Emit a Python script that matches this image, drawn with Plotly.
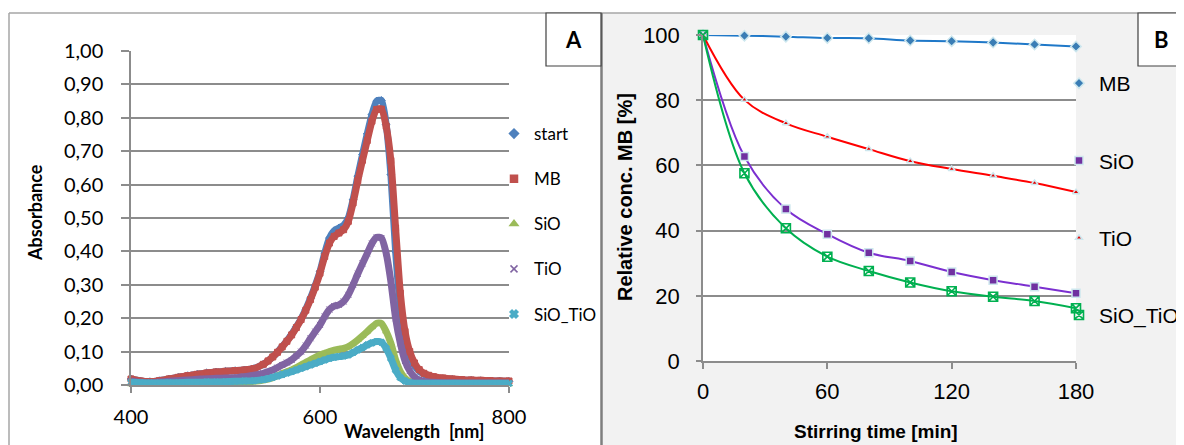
import plotly.graph_objects as go

# target picture size and the page's default body margin (the figure is drawn 8px in)
W, H = 1184, 445
OFF = 8
FW, FH = W - OFF, H - OFF

# ---------------- Panel A data (UV-Vis spectra) ----------------
wavelength = [400, 410, 420, 430, 440, 450, 460, 470, 480, 490, 500, 510, 520, 530, 540,
              545, 550, 555, 560, 565, 570, 575, 580, 585, 590, 595, 600, 605, 610, 615,
              620, 625, 630, 635, 640, 645, 650, 655, 660, 665, 670, 675, 680, 685, 690,
              695, 700, 705, 710, 715, 720,
              730, 740, 750, 760, 770, 780, 790, 800]

abs_start = [0.018, 0.012, 0.010, 0.013, 0.018, 0.023, 0.028, 0.032, 0.036, 0.039, 0.041, 0.043, 0.045, 0.049, 0.062,
             0.072, 0.084, 0.098, 0.115, 0.132, 0.152, 0.174, 0.198, 0.227, 0.260, 0.298, 0.340, 0.395, 0.440, 0.462,
             0.470, 0.478, 0.500, 0.555, 0.625, 0.690, 0.752, 0.810, 0.850, 0.852, 0.780, 0.630, 0.400, 0.235, 0.140,
             0.088, 0.058, 0.042, 0.033, 0.027, 0.023,
             0.019, 0.017, 0.015, 0.014, 0.013, 0.012, 0.012, 0.011]

abs_MB = [0.018, 0.012, 0.010, 0.013, 0.018, 0.023, 0.028, 0.032, 0.036, 0.039, 0.041, 0.043, 0.045, 0.049, 0.062,
          0.072, 0.084, 0.098, 0.114, 0.131, 0.150, 0.172, 0.196, 0.224, 0.256, 0.293, 0.335, 0.385, 0.425, 0.445,
          0.455, 0.465, 0.490, 0.545, 0.612, 0.673, 0.732, 0.790, 0.825, 0.826, 0.775, 0.672, 0.470, 0.275, 0.160,
          0.100, 0.066, 0.046, 0.035, 0.029, 0.025,
          0.021, 0.018, 0.016, 0.015, 0.014, 0.013, 0.012, 0.012]

abs_SiO = [0.002, 0.001, 0.000, 0.000, 0.000, 0.001, 0.002, 0.003, 0.004, 0.004, 0.005, 0.006, 0.008, 0.011, 0.015,
           0.018, 0.022, 0.028, 0.034, 0.040, 0.045, 0.052, 0.060, 0.068, 0.075, 0.083, 0.090, 0.095, 0.100, 0.104,
           0.107, 0.110, 0.115, 0.124, 0.135, 0.147, 0.160, 0.173, 0.185, 0.184, 0.160, 0.125, 0.075, 0.040, 0.020,
           0.010, 0.005, 0.003, 0.001, 0.000, 0.000,
           0.000, 0.001, 0.001, 0.001, 0.002, 0.002, 0.002, 0.002]

abs_TiO = [0.012, 0.008, 0.007, 0.009, 0.011, 0.013, 0.015, 0.017, 0.019, 0.020, 0.021, 0.022, 0.025, 0.029, 0.035,
           0.040, 0.045, 0.052, 0.060, 0.067, 0.075, 0.087, 0.100, 0.118, 0.140, 0.160, 0.180, 0.205, 0.226, 0.236,
           0.240, 0.250, 0.270, 0.300, 0.333, 0.364, 0.394, 0.424, 0.442, 0.440, 0.395, 0.310, 0.200, 0.125, 0.072,
           0.042, 0.024, 0.015, 0.011, 0.009, 0.008,
           0.007, 0.007, 0.006, 0.006, 0.006, 0.006, 0.006, 0.006]

abs_SiO_TiO = [0.008, 0.007, 0.006, 0.006, 0.007, 0.007, 0.008, 0.008, 0.009, 0.009, 0.010, 0.011, 0.012, 0.013, 0.016,
               0.019, 0.023, 0.027, 0.031, 0.036, 0.040, 0.045, 0.050, 0.055, 0.060, 0.065, 0.070, 0.075, 0.080, 0.083,
               0.085, 0.087, 0.090, 0.097, 0.105, 0.112, 0.120, 0.126, 0.130, 0.128, 0.110, 0.080, 0.045, 0.022, 0.012,
               0.007, 0.005, 0.005, 0.005, 0.005, 0.005,
               0.005, 0.005, 0.005, 0.005, 0.005, 0.005, 0.005, 0.005]

a_names = ["start", "MB", "SiO", "TiO", "SiO_TiO"]
a_colors = ["#4F81BD", "#C0504D", "#9BBB59", "#8064A2", "#4BACC6"]
a_symbols = ["diamond", "square", "triangle-up", "x-thin-open", "x"]
a_series = [abs_start, abs_MB, abs_SiO, abs_TiO, abs_SiO_TiO]

a_xticks = [400, 600, 800]
a_yticks = [0.0, 0.1, 0.2, 0.3, 0.4, 0.5, 0.6, 0.7, 0.8, 0.9, 1.0]
a_yticktext = ["0,00", "0,10", "0,20", "0,30", "0,40", "0,50", "0,60", "0,70", "0,80", "0,90", "1,00"]

# ---------------- Panel B data (kinetics) ----------------
time_min = [0, 20, 40, 60, 80, 100, 120, 140, 160, 180]
conc_MB = [100, 99.8, 99.5, 99.1, 99.0, 98.3, 98.1, 97.7, 97.1, 96.5]
conc_SiO = [100, 62.7, 46.6, 38.9, 33.2, 30.7, 27.3, 24.8, 22.8, 20.8]
conc_TiO = [100, 80.1, 72.9, 68.8, 65.0, 61.3, 58.9, 56.8, 54.6, 51.8]
conc_SiO_TiO = [100, 57.6, 40.7, 32.0, 27.6, 24.1, 21.4, 19.7, 18.4, 16.2]

b_names = ["MB", "SiO", "TiO", "SiO_TiO"]
b_series = [conc_MB, conc_SiO, conc_TiO, conc_SiO_TiO]
b_line_colors = ["#1F78C8", "#7B2FD0", "#FF0000", "#00B050"]
b_marker_colors = ["#3A7DB5", "#7030A0", "#E00000", "#00B050"]
b_symbols = ["diamond", "square", "triangle-up", "square-x-open"]
b_sizes = [8, 8, 6, 9]
b_xticks = [0, 60, 120, 180]
b_yticks = [0, 20, 40, 60, 80, 100]


def px(x):
    return (x - OFF) / FW


def py(y):
    return 1 - (y - OFF) / FH


LEFT_FONT = "Lato, Carlito, Calibri, sans-serif"
RIGHT_FONT = "Liberation Sans, Arial, sans-serif"
GRID = "#8C8C8C"

fig = go.Figure()

# Panel A traces
for name, ys, col, sym in zip(a_names, a_series, a_colors, a_symbols):
    fig.add_trace(go.Scatter(
        x=wavelength, y=ys, mode="lines+markers", name=name,
        line=dict(color=col, width=7, shape="spline", smoothing=0.6),
        marker=dict(symbol=sym, size=6, color=col, line=dict(color=col, width=1)),
        cliponaxis=False, showlegend=False, xaxis="x", yaxis="y"))
for name, col, sym in zip(a_names, a_colors, a_symbols):
    fig.add_trace(go.Scatter(
        x=[None], y=[None], mode="markers", name=name, legend="legend",
        legendgroup="a_" + name,
        marker=dict(symbol=sym, size=7, color=col, line=dict(color=col, width=1.5)),
        xaxis="x", yaxis="y"))

# Panel B traces
for name, ys, lc, mc, sym, sz in zip(b_names, b_series, b_line_colors, b_marker_colors, b_symbols, b_sizes):
    mline = dict(color=mc, width=1.6) if sym.endswith("open") else dict(color="#CDE7EE", width=1.5)
    fig.add_trace(go.Scatter(
        x=time_min, y=ys, mode="lines+markers", name=name,
        line=dict(color=lc, width=2, shape="spline", smoothing=1.0),
        marker=dict(symbol=sym, size=sz, color=mc, line=mline),
        cliponaxis=False, showlegend=False, xaxis="x2", yaxis="y2"))
for name, mc, sym, sz in zip(b_names, b_marker_colors, b_symbols, b_sizes):
    mline = dict(color=mc, width=1.6) if sym.endswith("open") else dict(color="#CDE7EE", width=1.5)
    fig.add_trace(go.Scatter(
        x=[None], y=[None], mode="markers", name=name, legend="legend2",
        legendgroup="b_" + name,
        marker=dict(symbol=sym, size=sz, color=mc, line=mline),
        xaxis="x2", yaxis="y2"))

shapes = [
    # grey background of panel B
    dict(type="rect", xref="paper", yref="paper", x0=px(602), x1=1.0, y0=0, y1=py(13),
         fillcolor="#F2F2F2", line=dict(width=0), layer="below"),
    # white plot area of panel B
    dict(type="rect", xref="paper", yref="paper", x0=px(703), x1=px(1076), y0=py(361), y1=py(35),
         fillcolor="white", line=dict(width=0), layer="below"),
    # panel A frame (left + top)
    dict(type="line", xref="paper", yref="paper", x0=px(9), x1=px(9), y0=0, y1=py(13),
         line=dict(color="#A6A6A6", width=1.5)),
    dict(type="line", xref="paper", yref="paper", x0=px(9), x1=1.0, y0=py(13), y1=py(13),
         line=dict(color="#A6A6A6", width=1.5)),
    # divider between panels
    dict(type="line", xref="paper", yref="paper", x0=px(601.5), x1=px(601.5), y0=0, y1=py(13),
         line=dict(color="#7F7F7F", width=2.5)),
    # label boxes
    dict(type="rect", xref="paper", yref="paper", x0=px(546), x1=px(601), y0=py(66), y1=py(13),
         fillcolor="white", line=dict(color="#404040", width=1.2)),
    dict(type="rect", xref="paper", yref="paper", x0=px(1138), x1=px(1195), y0=py(66), y1=py(13),
         fillcolor="white", line=dict(color="#404040", width=1.2)),
]

annotations = [
    dict(text="<b>A</b>", x=px(573.5), y=py(40), xref="paper", yref="paper", showarrow=False,
         font=dict(family=LEFT_FONT, size=22, color="black"), xanchor="center", yanchor="middle"),
    dict(text="<b>B</b>", x=px(1161), y=py(40), xref="paper", yref="paper", showarrow=False,
         font=dict(family=LEFT_FONT, size=22, color="black"), xanchor="center", yanchor="middle"),
    dict(text="<b>Absorbance</b>", x=px(35), y=py(213), xref="paper", yref="paper", showarrow=False,
         textangle=-90, font=dict(family=LEFT_FONT, size=18, color="black"), xanchor="center", yanchor="middle"),
    dict(text="<b>Wavelength  [nm]</b>", x=px(414), y=py(431), xref="paper", yref="paper", showarrow=False,
         font=dict(family=LEFT_FONT, size=18, color="black"), xanchor="center", yanchor="middle"),
    dict(text="<b>Relative conc. MB [%]</b>", x=px(625), y=py(197), xref="paper", yref="paper", showarrow=False,
         textangle=-90, font=dict(family=RIGHT_FONT, size=20, color="black"), xanchor="center", yanchor="middle"),
    dict(text="<b>Stirring time [min]</b>", x=px(876), y=py(431), xref="paper", yref="paper", showarrow=False,
         font=dict(family=RIGHT_FONT, size=19, color="black"), xanchor="center", yanchor="middle"),
]

fig.update_layout(
    width=FW, height=FH, margin=dict(l=0, r=0, t=0, b=0, autoexpand=False),
    paper_bgcolor="white", plot_bgcolor="white",
    shapes=shapes, annotations=annotations,
    xaxis=dict(domain=[px(131), px(509)], range=[400, 800], anchor="y",
               tickvals=a_xticks, ticks="outside", ticklen=6, tickcolor=GRID, tickwidth=1.5,
               showline=True, linecolor=GRID, linewidth=1.5, showgrid=False, zeroline=False,
               ticklabelstandoff=7,
               tickfont=dict(family=LEFT_FONT, size=20, color="black")),
    yaxis=dict(domain=[py(385), py(51)], range=[0, 1.0], anchor="x",
               tickvals=a_yticks, ticktext=a_yticktext, ticks="outside", ticklen=8,
               tickcolor=GRID, tickwidth=1.5, showline=True, linecolor=GRID, linewidth=1.5,
               showgrid=True, gridcolor=GRID, gridwidth=1.5, zeroline=False,
               ticklabelstandoff=14,
               tickfont=dict(family=LEFT_FONT, size=20, color="black")),
    xaxis2=dict(domain=[px(703), px(1076)], range=[0, 180], anchor="y2",
                tickvals=b_xticks, ticks="outside", ticklen=6, tickcolor=GRID, tickwidth=1.5,
                showline=True, linecolor=GRID, linewidth=1.5, showgrid=False, zeroline=False,
                ticklabelstandoff=4,
                tickfont=dict(family=RIGHT_FONT, size=22, color="black")),
    yaxis2=dict(domain=[py(361), py(35)], range=[0, 100], anchor="x2",
                tickvals=b_yticks, ticks="outside", ticklen=5, tickcolor=GRID, tickwidth=1.5,
                showline=True, linecolor=GRID, linewidth=1.5,
                showgrid=True, gridcolor=GRID, gridwidth=1.5, zeroline=False,
                ticklabelstandoff=12,
                tickfont=dict(family=RIGHT_FONT, size=22, color="black")),
    legend=dict(x=px(494), y=py(116), xanchor="left", yanchor="top", bgcolor="rgba(0,0,0,0)",
                font=dict(family=LEFT_FONT, size=17, color="black"), itemwidth=30,
                tracegroupgap=20, traceorder="grouped"),
    legend2=dict(x=px(1059), y=py(63), xanchor="left", yanchor="top", bgcolor="rgba(0,0,0,0)",
                 font=dict(family=RIGHT_FONT, size=21, color="black"), itemwidth=30,
                 tracegroupgap=47, traceorder="grouped"),
)

fig.write_html("out.html")
